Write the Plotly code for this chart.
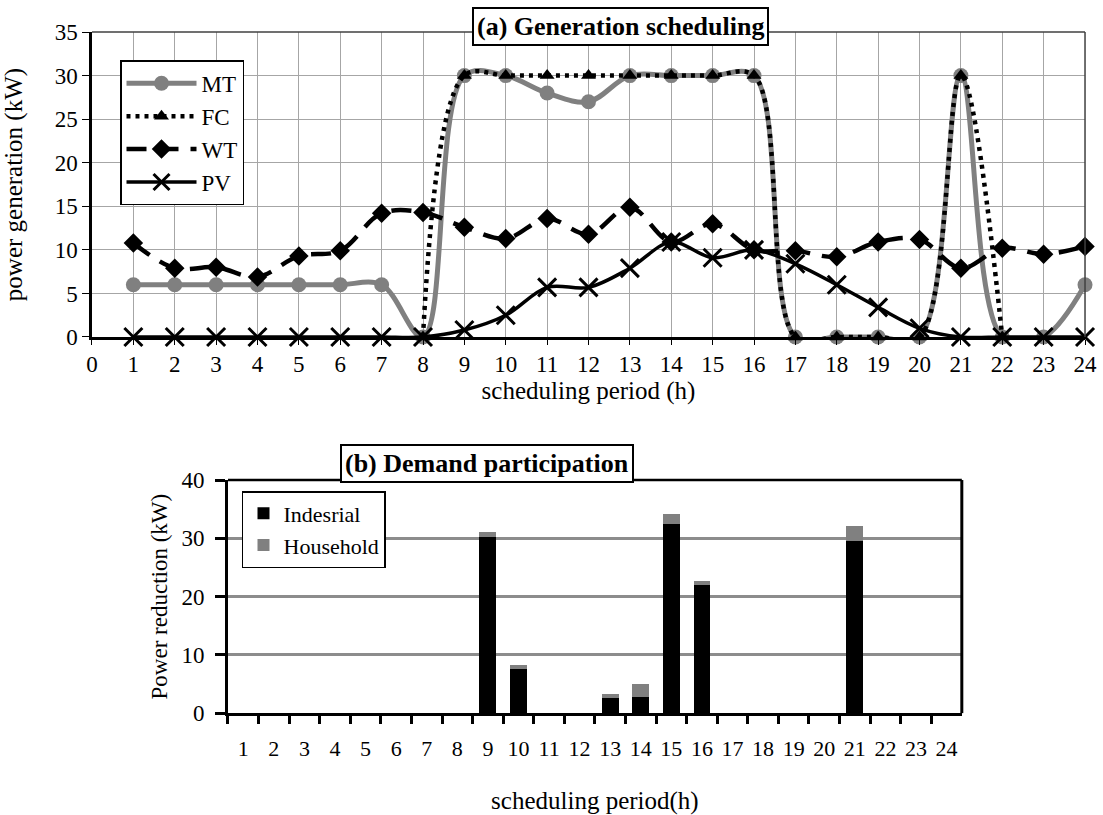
import plotly.graph_objects as go

# ---------------- data ----------------
hours = list(range(1, 25))
hour_ticks = list(range(0, 25))

mt = [6, 6, 6, 6, 6, 6, 6, 0, 30, 30, 28, 27, 30, 30, 30, 30, 0, 0, 0, 0, 30, 0, 0, 6]
fc = [None, None, None, None, None, None, None, 0, 30, 30, 30, 30, 30, 30, 30, 30,
      0, 0, 0, 0, 30, 0, None, None]
wt = [10.8, 7.9, 8.0, 6.9, 9.3, 9.9, 14.2, 14.3, 12.6, 11.3, 13.6, 11.8, 14.9, 10.9,
      13.0, 10.0, 9.9, 9.2, 10.9, 11.2, 7.9, 10.2, 9.5, 10.4]
pv = [0, 0, 0, 0, 0, 0, 0, 0, 0.8, 2.5, 5.7, 5.7, 7.9, 10.9, 9.1, 10.0,
      8.4, 6.0, 3.4, 1.0, 0, 0, 0, 0]

period_labels = [str(h) for h in hours]
industrial = [0, 0, 0, 0, 0, 0, 0, 0, 30.2, 7.5, 0, 0, 2.6, 2.7, 32.5, 22.0,
              0, 0, 0, 0, 29.5, 0, 0, 0]
household = [0, 0, 0, 0, 0, 0, 0, 0, 0.8, 0.7, 0, 0, 0.6, 2.3, 1.7, 0.7,
             0, 0, 0, 0, 2.6, 0, 0, 0]

FONT = "Liberation Serif, Times New Roman, serif"
GREY = "#808080"

fig = go.Figure()

# ---------------- (a) generation scheduling ----------------
fig.add_trace(go.Scatter(
    x=hours, y=mt, name="MT", mode="lines+markers",
    line=dict(color=GREY, width=5, shape="spline", smoothing=1),
    marker=dict(symbol="circle", size=15, color=GREY),
    xaxis="x", yaxis="y", legend="legend", cliponaxis=False))
fig.add_trace(go.Scatter(
    x=hours, y=fc, name="FC", mode="lines+markers",
    line=dict(color="black", width=4.5, dash="4px,5px", shape="spline", smoothing=1),
    marker=dict(symbol="triangle-up", size=13, color="black"),
    xaxis="x", yaxis="y", legend="legend", cliponaxis=False))
fig.add_trace(go.Scatter(
    x=hours, y=wt, name="WT", mode="lines+markers",
    line=dict(color="black", width=4.5, dash="20px,12px", shape="spline", smoothing=1),
    marker=dict(symbol="diamond", size=15, color="black"),
    xaxis="x", yaxis="y", legend="legend", cliponaxis=False))
fig.add_trace(go.Scatter(
    x=hours, y=pv, name="PV", mode="lines+markers",
    line=dict(color="black", width=3.5, shape="spline", smoothing=1),
    marker=dict(symbol="x-thin", size=18, color="black",
                line=dict(color="black", width=3)),
    xaxis="x", yaxis="y", legend="legend", cliponaxis=False))

# ---------------- (b) demand participation ----------------
fig.add_trace(go.Bar(
    x=period_labels, y=industrial, name="Indesrial",
    marker=dict(color="black", line=dict(width=0)), width=0.55,
    xaxis="x2", yaxis="y2", legend="legend2"))
fig.add_trace(go.Bar(
    x=period_labels, y=household, name="Household",
    marker=dict(color=GREY, line=dict(width=0)), width=0.55,
    xaxis="x2", yaxis="y2", legend="legend2"))

tick_font = dict(family=FONT, size=23, color="black")
tick_font_b = dict(family=FONT, size=22, color="black")
title_font = dict(family=FONT, size=25, color="black")
legend_font = dict(family=FONT, size=23, color="black")
legend_font_b = dict(family=FONT, size=22, color="black")

fig.update_layout(
    width=1103, height=815,
    margin=dict(l=0, r=0, t=0, b=0),
    paper_bgcolor="white", plot_bgcolor="white",
    font=tick_font,
    barmode="stack",
    xaxis=dict(
        domain=[0.0834, 0.9837], anchor="y", range=[0, 24], automargin=False,
        tickvals=hour_ticks, ticktext=[str(v) for v in hour_ticks], tickangle=0,
        showgrid=True, gridcolor="#a6a6a6", gridwidth=1.2, zeroline=False,
        showline=True, linecolor="black", linewidth=2.5,
        ticks="outside", ticklen=5, tickcolor="black",
        tickfont=tick_font,
        title=dict(text="scheduling period (h)", font=title_font, standoff=4)),
    yaxis=dict(
        domain=[0.5865, 0.9607], anchor="x", range=[0, 35], dtick=5, automargin=False,
        showgrid=True, gridcolor="#a6a6a6", gridwidth=1.2, zeroline=False,
        showline=True, linecolor="black", linewidth=2.5,
        ticks="outside", ticklen=7, tickcolor="black",
        tickfont=tick_font,
        title=dict(text="power generation (kW)", font=title_font, standoff=26)),
    xaxis2=dict(
        domain=[0.2067, 0.872], anchor="y2", type="category", automargin=False,
        categoryorder="array", categoryarray=period_labels, tickangle=0,
        tickson="boundaries", ticks="outside", ticklen=8, tickwidth=2.5,
        tickcolor="black", ticklabelstandoff=14,
        showgrid=False, showline=True, linecolor="black", linewidth=2.5,
        tickfont=tick_font_b,
        title=dict(text="scheduling period(h)", font=title_font, standoff=34)),
    yaxis2=dict(
        domain=[0.125, 0.411], anchor="x2", range=[0, 40], dtick=10, automargin=False,
        showgrid=True, gridcolor="#8c8c8c", gridwidth=3, zeroline=False,
        showline=True, linecolor="black", linewidth=3,
        ticks="outside", ticklen=10, tickwidth=2.5, tickcolor="black",
        ticklabelstandoff=6,
        tickfont=tick_font,
        title=dict(text="Power reduction (kW)", font=tick_font, standoff=8)),
    legend=dict(
        x=0.1088, y=0.926, xanchor="left", yanchor="top",
        bgcolor="white", bordercolor="black", borderwidth=1.5,
        font=legend_font, itemwidth=70, tracegroupgap=0, traceorder="normal"),
    legend2=dict(
        x=0.2194, y=0.3975, xanchor="left", yanchor="top",
        bgcolor="white", bordercolor="black", borderwidth=1.5,
        font=legend_font_b, tracegroupgap=0, traceorder="normal"),
    showlegend=True,
    shapes=[
        dict(type="line", xref="x domain", yref="y domain", x0=0, x1=1, y0=1, y1=1,
             line=dict(color="#404040", width=1.5), layer="above"),
        dict(type="line", xref="x domain", yref="y domain", x0=1, x1=1, y0=0, y1=1,
             line=dict(color="#404040", width=1.5), layer="above"),
        dict(type="line", xref="x2 domain", yref="y2 domain", x0=0, x1=1, y0=1, y1=1,
             line=dict(color="black", width=2.5), layer="above"),
        dict(type="line", xref="x2 domain", yref="y2 domain", x0=1, x1=1, y0=0, y1=1,
             line=dict(color="black", width=3), layer="above"),
    ],
    annotations=[
        dict(text="<b>(a) Generation scheduling</b>", xref="paper", yref="paper",
             x=0.563, y=0.9669, xanchor="center", yanchor="middle", showarrow=False,
             font=dict(family=FONT, size=26, color="black"),
             bgcolor="white", bordercolor="black", borderwidth=2, borderpad=3),
        dict(text="<b>(b) Demand participation</b>", xref="paper", yref="paper",
             x=0.4415, y=0.4307, xanchor="center", yanchor="middle", showarrow=False,
             font=dict(family=FONT, size=26, color="black"),
             bgcolor="white", bordercolor="black", borderwidth=2, borderpad=3),
    ],
)

fig.write_html("out.html", config={"displayModeBar": False},
               post_script="document.body.style.margin='0px';")
